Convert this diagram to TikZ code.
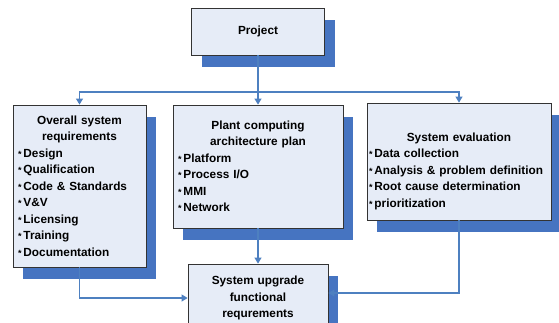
\documentclass[tikz,border=0pt]{standalone}
\usepackage{fontspec}
\setmainfont{Liberation Sans}
\usetikzlibrary{shadows}
\usetikzlibrary{arrows.meta}
\definecolor{boxfill}{RGB}{230,236,247}
\definecolor{shadeblue}{RGB}{70,116,193}
\definecolor{linkblue}{RGB}{78,128,192}
\newcommand{\bul}{{\fontsize{9}{9}\selectfont *}\,}

\begin{document}
\begin{tikzpicture}[x=1pt,y=-1pt,
            font=\bfseries\fontsize{11.8}{16.5}\selectfont,
            box/.style = {draw=black!80,line width=0.8pt,fill=boxfill,
                inner sep=5pt,
                drop shadow={shadow xshift=10pt,shadow yshift=-12pt,
                    fill=shadeblue,opacity=1}},
            link/.style = {draw=linkblue,line width=1.1pt,
                -{Triangle[length=6pt,width=7pt]}}]
            \useasboundingbox (0,0) rectangle (559,322);
            \node[box,minimum width=133pt,minimum height=47pt](proj)
                at (258,31.5) {Project};
            \node[box,text width=123pt,minimum height=162pt](req)
                at (79.5,186) {\centering Overall system\\ requirements\par
                \raggedright\bul Design\\ \bul Qualification\\
                \bul Code \& Standards\\ \bul V\&V\\ \bul Licensing\\
                \bul Training\\ \bul Documentation};
            \node[box,text width=160pt,minimum height=123pt](arch)
                at (258,166.5) {\centering Plant computing\\
                architecture plan\par
                \raggedright\bul Platform\\ \bul Process I/O\\
                \bul MMI\\ \bul Network};
            \node[box,inner xsep=2pt,text width=180pt,minimum height=117pt](eval)
                at (459,161.5) {\centering\rule{0pt}{28pt}System evaluation\par
                \raggedright\bul Data collection\\
                \mbox{\bul Analysis \& problem definition}\\
                \bul Root cause determination\\ \bul prioritization};
            \node[box,text width=130pt,minimum height=68pt,align=center](upg)
                at (258,298) {System upgrade\\ functional\\ requrements};
            \coordinate (hub) at (258,92);
            \draw[link] (proj.south) -- (arch.north);
            \draw[link] (hub) -| (req.north);
            \draw[link] (hub) -| (eval.north);
            \draw[link] (arch.south) -- (upg.north);
            \draw[link] (req.south) |- (upg.west);
            \draw[link] (eval.south) |- ([yshift=5pt]upg.east);
        \end{tikzpicture}
\end{document}
